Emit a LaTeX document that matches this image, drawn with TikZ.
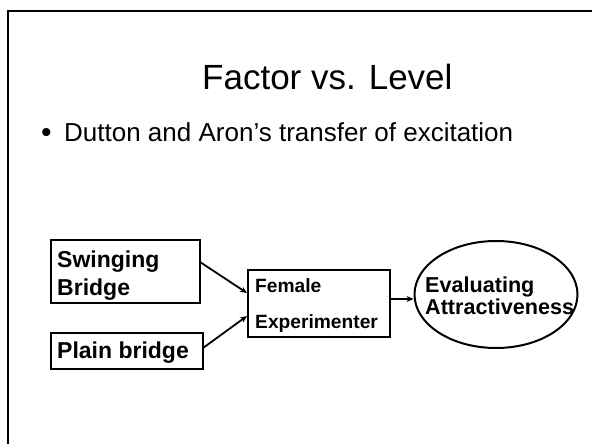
\documentclass[tikz,border=0pt]{standalone}
\usepackage{fontspec}
\setmainfont{Liberation Sans}
\usetikzlibrary{arrows.meta,shapes.geometric}
\tikzset{
  boxed/.style={draw,line width=2.4pt,inner sep=0pt},
  lbl/.style={font=\bfseries\fontsize{23}{28}\selectfont,anchor=base west,inner sep=0pt},
  small/.style={font=\bfseries\fontsize{19.2}{22}\selectfont,anchor=base west,inner sep=0pt},
  evl/.style={font=\bfseries\fontsize{21.6}{22}\selectfont,anchor=base west,inner sep=0pt},
  conn/.style={line width=1.8pt,-{Stealth[length=7pt,width=6pt]}}
}
\begin{document}
\begin{tikzpicture}[x=1pt,y=-1pt]
\useasboundingbox (0,0) rectangle (592,444);
\draw[line width=2pt] (8,444) -- (8,11) -- (592,11);
\node[font=\fontsize{35}{40}\selectfont,anchor=base west,inner sep=0pt] (title) at (202,90) {Factor vs. Level};
\node[font=\fontsize{30}{30}\selectfont,anchor=base west,inner sep=0pt] (dot) at (41,142) {•};
\node[font=\fontsize{26}{30}\selectfont,anchor=base west,inner sep=0pt] (bul) at (64,141) {Dutton and Aron’s transfer of excitation};
% boxes
\node[boxed,minimum width=149pt,minimum height=63pt] (sb) at (125.5,271.5) {};
\node[lbl] (sbt1) at (57,267) {Swinging};
\node[lbl] (sbt2) at (57,295) {Bridge};
\node[boxed,minimum width=152pt,minimum height=36pt] (pb) at (127,351) {};
\node[lbl] (pbt) at (57,358) {Plain bridge};
\node[boxed,minimum width=142pt,minimum height=67pt] (fe) at (319,303.5) {};
\node[small] (fe1) at (255,292) {Female};
\node[small] (fe2) at (255,328) {Experimenter};
\node[draw,ellipse,line width=2pt,minimum width=163pt,minimum height=107pt,inner sep=0pt] (ev) at (496,294.5) {};
\node[evl] (ev1) at (425,292) {Evaluating};
\node[evl] (ev2) at (425,314) {Attractiveness};
% connectors
\coordinate (a1) at (200,262);
\coordinate (a2) at (247,293);
\coordinate (b1) at (203,348);
\coordinate (b2) at (247,316);
\draw[conn] (a1) -- (a2);
\draw[conn] (b1) -- (b2);
\draw[conn] (fe.east |- 0,299) -- (ev.west |- 0,299);
\end{tikzpicture}
\end{document}
